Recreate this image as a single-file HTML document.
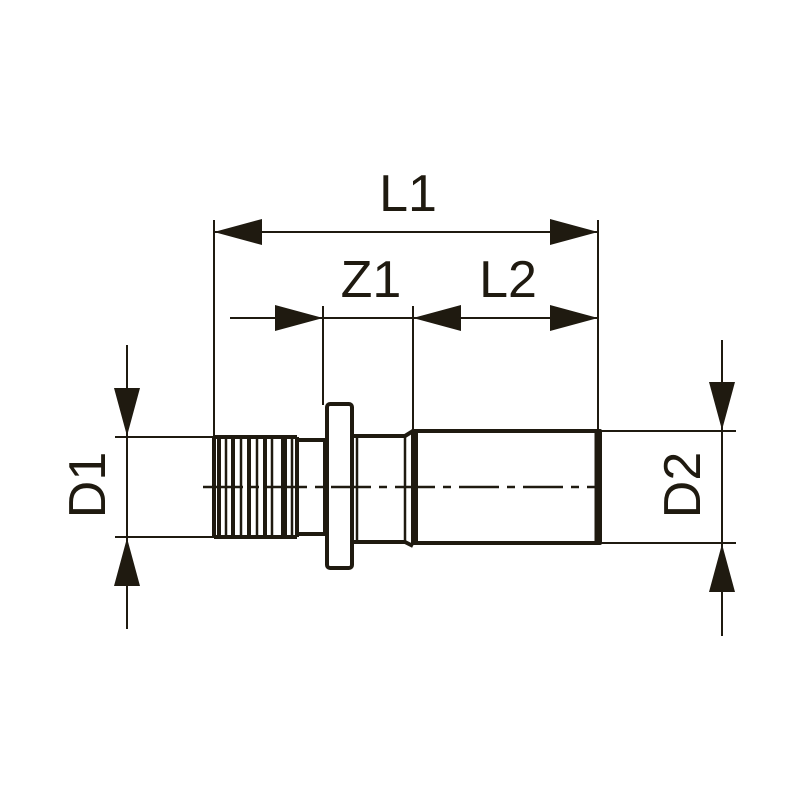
<!DOCTYPE html>
<html><head><style>html,body{margin:0;padding:0;background:#fff}svg{display:block}</style></head>
<body>
<svg width="800" height="800" viewBox="0 0 800 800" xmlns="http://www.w3.org/2000/svg">
<g stroke="#1f1a10" fill="none" stroke-width="2">
<line x1="214" y1="220" x2="214" y2="436"/>
<line x1="598" y1="220" x2="598" y2="431"/>
<line x1="323" y1="306" x2="323" y2="405"/>
<line x1="413" y1="306" x2="413" y2="432"/>
<line x1="115" y1="437" x2="214" y2="437"/>
<line x1="115" y1="537" x2="214" y2="537"/>
<line x1="600" y1="431" x2="736" y2="431"/>
<line x1="600" y1="543" x2="736" y2="543"/>
<line x1="214" y1="232" x2="598" y2="232"/>
<line x1="230" y1="318" x2="323" y2="318"/>
<line x1="323" y1="318" x2="413" y2="318"/>
<line x1="413" y1="318" x2="598" y2="318"/>
<line x1="127" y1="345" x2="127" y2="437"/>
<line x1="127" y1="437" x2="127" y2="537"/>
<line x1="127" y1="537" x2="127" y2="629"/>
<line x1="722" y1="340" x2="722" y2="636"/>
<line x1="203" y1="487" x2="600" y2="487" stroke-dasharray="40,8,8,8" stroke-width="2.5"/>
</g>
<g fill="#1f1a10">
<polygon points="214,232 262,219 262,245"/>
<polygon points="598,232 550,219 550,245"/>
<polygon points="323,318 275,305 275,331"/>
<polygon points="413,318 461,305 461,331"/>
<polygon points="598,318 550,305 550,331"/>
<polygon points="127,436 114,388 140,388"/>
<polygon points="127,538 114,586 140,586"/>
<polygon points="722,430 709,382 735,382"/>
<polygon points="722,544 709,592 735,592"/>
</g>
<g stroke="#1f1a10" fill="none" stroke-width="4" stroke-linejoin="round">
<path d="M214,437 L214,537 M214,437 L297,437 M214,537 L297,537"/>
<path d="M297,437 L297,537"/>
<rect x="297" y="440" width="28" height="94"/>
<rect x="327" y="404" width="25" height="164" rx="3"/>
<path d="M352,436 L405,436 L413,431 M352,542 L405,542 L413,546"/>
<line x1="357" y1="436" x2="357" y2="542" stroke-width="2.5"/>
<line x1="405" y1="436" x2="405" y2="542" stroke-width="2.5"/>
<rect x="413" y="431" width="187" height="112"/>
</g>
<g stroke="#1f1a10" stroke-width="2.5">
<line x1="219" y1="438" x2="219" y2="536" stroke-width="4"/>
<line x1="226" y1="438" x2="226" y2="536"/>
<line x1="233" y1="438" x2="233" y2="536" stroke-width="4"/>
<line x1="241" y1="438" x2="241" y2="536"/>
<line x1="249" y1="438" x2="249" y2="536" stroke-width="4"/>
<line x1="257" y1="438" x2="257" y2="536"/>
<line x1="265" y1="438" x2="265" y2="536" stroke-width="4"/>
<line x1="272" y1="438" x2="272" y2="536"/>
<line x1="284" y1="438" x2="284" y2="536" stroke-width="6"/>
<line x1="292" y1="438" x2="292" y2="536"/>
<line x1="597" y1="431" x2="597" y2="543" stroke-width="5"/>
<line x1="416" y1="431" x2="416" y2="543" stroke-width="4"/>
</g>
<g fill="#1f1a10" font-family="Liberation Sans, sans-serif" font-size="52">
<text x="408" y="211" text-anchor="middle">L1</text>
<text x="371" y="297" text-anchor="middle">Z1</text>
<text x="508" y="297" text-anchor="middle">L2</text>
<text transform="translate(105,485) rotate(-90)" text-anchor="middle">D1</text>
<text transform="translate(700,485) rotate(-90)" text-anchor="middle">D2</text>
</g>
</svg>
</body></html>
